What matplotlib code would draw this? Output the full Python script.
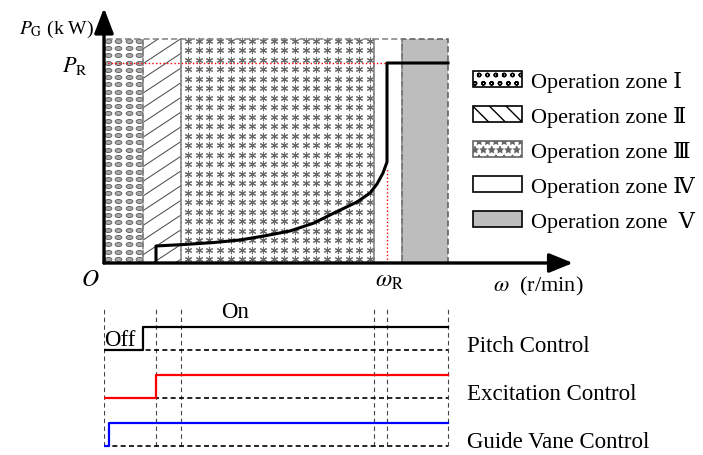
import numpy as np
import matplotlib.pyplot as plt
from matplotlib.patches import Rectangle, Patch
from matplotlib.path import Path

plt.rcParams['font.family'] = ['Liberation Serif', 'DejaVu Serif', 'Noto Sans CJK SC']
plt.rcParams['mathtext.fontset'] = 'stix'

# operating zones along omega (schematic units, origin O = 0)
zone_edges = [0, 39, 77, 270, 298, 344]
zone_top = 224
p_rated = 200
w_rated = 283
zone_names = ['Operation zone Ⅰ', 'Operation zone Ⅱ', 'Operation zone Ⅲ',
              'Operation zone Ⅳ', 'Operation zone  Ⅴ']

# generator power curve P_G(omega)
curve_w = [52, 52, 80, 110, 136, 160, 186, 210, 230, 253, 266, 273, 279, 283, 283, 344]
curve_p = [0, 17, 18.5, 20.5, 23, 27, 32, 40, 50, 61, 70, 79, 90, 101, 200, 200]

# control switching (bottom panel)
ctrl_names = ['Pitch Control', 'Excitation Control', 'Guide Vane Control']
ctrl_colors = ['black', 'red', 'blue']
ctrl_on = [39, 52, 5]
split_w = [0, 52, 77, 270, 283, 344]

fig = plt.figure(figsize=(7.03, 4.56), dpi=100)

# ---------------- top panel ----------------
ax = fig.add_axes([104 / 703, 192 / 456, 470 / 703, 257 / 456])
ax.set_xlim(0, 470)
ax.set_ylim(0, 257)
ax.axis('off')

# zone I : small grey ellipses
circ = Path.unit_circle()
ellipse = Path(circ.vertices * [1, 0.6], circ.codes)
gx, gy = np.meshgrid([3.5, 14, 24.5, 35], 222.3 - 7.27 * np.arange(31))
ax.scatter(gx.ravel(), gy.ravel(), marker=ellipse, s=24, facecolor='#a8a8a8',
           edgecolor='#5a5a5a', linewidths=0.6, zorder=2)

# zone II : sloped lines
clip2 = Rectangle((zone_edges[1], 0), zone_edges[2] - zone_edges[1], zone_top,
                  transform=ax.transData)
for c in np.arange(214, -40, -14.7):
    ln, = ax.plot([zone_edges[1], zone_edges[2]], [c, c + 0.66 * 38],
                  color='#444444', lw=0.7, zorder=2)
    ln.set_clip_path(clip2)

# zone III : asterisks
sx, sy = np.meshgrid(84 + 10.7 * np.arange(18), 222.5 - 9.5 * np.arange(24))
ax.scatter(sx.ravel(), sy.ravel(), marker=(6, 2, 0), s=21, color='#6a6a6a',
           linewidths=0.8, zorder=2)

# zone outlines
for i in range(5):
    e0, e1 = zone_edges[i], zone_edges[i + 1]
    fc = '#bdbdbd' if i == 4 else 'none'
    ec = '#5a5a5a' if i == 4 else '#808080'
    ax.add_patch(Rectangle((e0, 0), e1 - e0, zone_top, facecolor=fc, edgecolor=ec,
                           linestyle=(0, (4, 2)), lw=1.1, zorder=1 if i == 4 else 3))

# rated point guides
ax.plot([0, w_rated], [p_rated, p_rated], color='red', ls=':', lw=1.0, zorder=4)
ax.plot([w_rated, w_rated], [0, 95], color='red', ls=':', lw=1.0, zorder=4)

# power curve
ax.plot(curve_w, curve_p, color='black', lw=2.2, zorder=6)

# axes with arrows
ax.annotate('', xy=(0, 255), xytext=(0, 0),
            arrowprops=dict(arrowstyle='-|>,head_length=1.7,head_width=0.65',
                            color='black', lw=2.4, shrinkA=0, shrinkB=0,
                            mutation_scale=9), zorder=7)
ax.annotate('', xy=(469, 0), xytext=(0, 0),
            arrowprops=dict(arrowstyle='-|>,head_length=1.6,head_width=0.65',
                            color='black', lw=2.4, shrinkA=0, shrinkB=0,
                            mutation_scale=9), zorder=7)

ax.text(-10, 235, r'$P_{\mathrm{G}}$ (k W)', ha='right', va='center', fontsize=14)
ax.text(-16, p_rated - 2, r'$P_{\mathrm{R}}$', ha='right', va='center', fontsize=16)
ax.text(-14, -17, r'$O$', ha='center', va='center', fontsize=17)
ax.text(w_rated + 3, -18, r'$\omega_{\mathrm{R}}$', ha='center', va='center', fontsize=17)
ax.text(389, -22, r'$\omega$  (r/min)', ha='left', va='center', fontsize=16)

# legend
handles = [
    Patch(facecolor='white', edgecolor='black', hatch='oo', lw=1.2),
    Patch(facecolor='white', edgecolor='black', hatch='\\\\', lw=1.2),
    Patch(facecolor='white', edgecolor='#666666', hatch='**', lw=1.2),
    Patch(facecolor='white', edgecolor='black', lw=1.2),
    Patch(facecolor='#bdbdbd', edgecolor='black', lw=1.2),
]
fig.legend(handles, zone_names, loc='upper left',
           bbox_to_anchor=(473 / 703, 1 - 72 / 456), frameon=False,
           borderpad=0, borderaxespad=0, fontsize=16, handlelength=2.2,
           handleheight=0.72, handletextpad=0.4, labelspacing=0.63)

# ---------------- bottom panel ----------------
bx = fig.add_axes([104 / 703, 0, 470 / 703, 156 / 456])
bx.set_xlim(0, 470)
bx.set_ylim(0, 156)
bx.axis('off')

for w in split_w:
    bx.plot([w, w], [9, 146], color='#444444', lw=0.8, ls=(0, (4, 3)))

for i, name in enumerate(ctrl_names):
    base = 105 - 48 * i
    high = base + 23
    bx.plot([0, split_w[-1]], [base, base], color='black', lw=1.2, ls=(0, (3, 2)))
    bx.plot([0, ctrl_on[i], ctrl_on[i], split_w[-1]], [base, base, high, high],
            color=ctrl_colors[i], lw=1.6)
    bx.text(363, base + 4, name, ha='left', va='center', fontsize=16.5)

bx.text(0, 116, 'Off', ha='left', va='center', fontsize=16.5)
bx.text(131, 143, 'On', ha='center', va='center', fontsize=16.5)

plt.savefig('out.png', dpi=100)
